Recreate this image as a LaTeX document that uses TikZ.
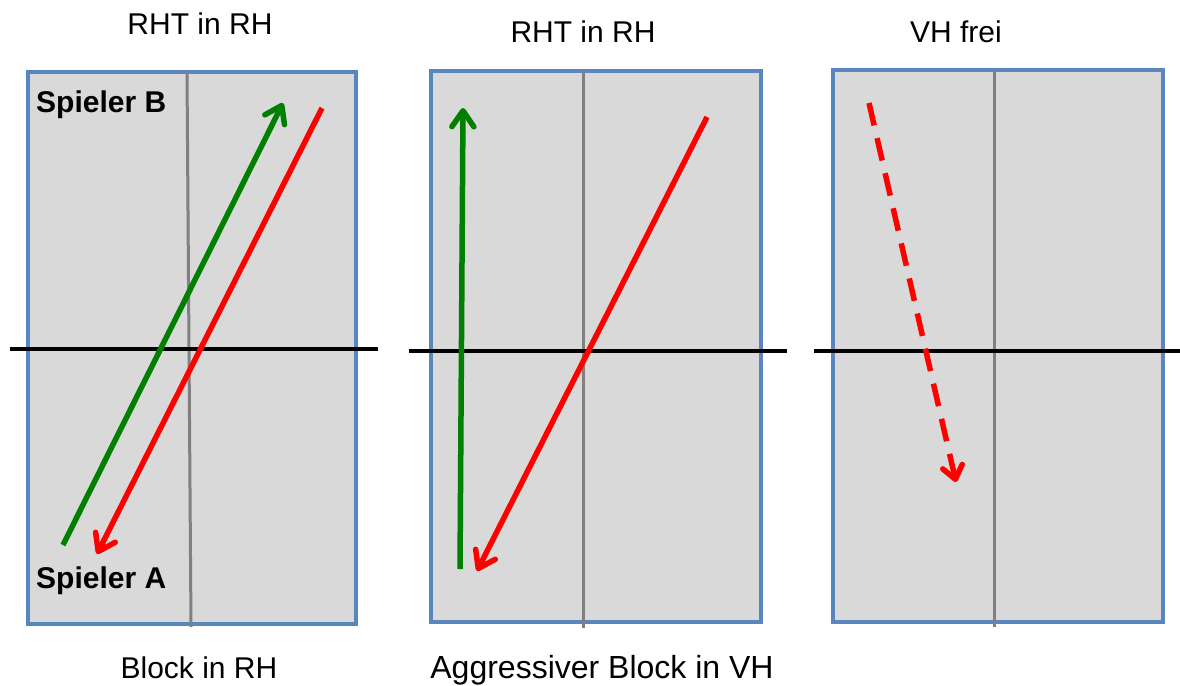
\documentclass[tikz,border=0pt]{standalone}
\usepackage{fontspec}
\setmainfont{Liberation Sans}
\usetikzlibrary{arrows.meta}
\definecolor{courtfill}{HTML}{D9D9D9}
\definecolor{courtblue}{HTML}{5A86C0}
\definecolor{midgray}{HTML}{808080}
\definecolor{arrgreen}{HTML}{008000}
\definecolor{arrred}{HTML}{FF0000}
\begin{document}
\begin{tikzpicture}[x=1pt,y=-1pt,
  court/.style={fill=courtfill,draw=courtblue,line width=3.2pt},
  midline/.style={draw=midgray,line width=3pt},
  netline/.style={draw=black,line width=3.6pt},
  shotgreen/.style={draw=arrgreen,line width=5.5pt,-{Straight Barb[length=16pt,width=22pt,line cap=round,line join=round]}},
  shotred/.style={draw=arrred,line width=5.5pt,-{Straight Barb[length=16pt,width=22pt,line cap=round,line join=round]}},
  shotdash/.style={draw=arrred,line width=5.5pt,dash pattern=on 23pt off 13pt,-{Straight Barb[length=13pt,width=20pt,line cap=round,line join=round]}},
  lbl/.style={inner sep=0pt,font=\fontsize{30}{36}\selectfont},
  blbl/.style={inner sep=0pt,font=\fontsize{30}{36}\selectfont\bfseries}]
\useasboundingbox (0,0) rectangle (1180,685);
% courts
\draw[court] (28,72) rectangle (356,624);
\draw[court] (431,71) rectangle (761,622);
\draw[court] (833,70) rectangle (1163,622);
% middle lines
\draw[midline] (187,72) -- (191,627);
\draw[midline] (583,71) -- (583,628);
\draw[midline] (994,70) -- (994,627);
% nets
\draw[netline] (10,349) -- (378,349);
\draw[netline] (409,351) -- (787,351);
\draw[netline] (814,351) -- (1180,351);
% endpoints
\coordinate (g1s) at (63,545);
\coordinate (g1e) at (283,103);
\coordinate (r1s) at (322,108);
\coordinate (r1e) at (97,554);
\coordinate (g2s) at (460,569);
\coordinate (g2e) at (463,108);
\coordinate (r2s) at (707,117);
\coordinate (r2e) at (477,571);
\coordinate (r3s) at (869,103);
\coordinate (r3e) at (956,482);
% shots
\draw[shotgreen] (g1s) -- (g1e);
\draw[shotred] (r1s) -- (r1e);
\draw[shotgreen] (g2s) -- (g2e);
\draw[shotred] (r2s) -- (r2e);
\draw[shotdash] (r3s) -- (r3e);
% labels
\node[lbl,anchor=base] (t1) at (200,35) {RHT in RH};
\node[lbl,anchor=base] (t2) at (583,43) {RHT in RH};
\node[lbl,anchor=base] (t3) at (956,43) {VH frei};
\node[lbl,anchor=base] (b1) at (199,678) {Block in RH};
\node[lbl,anchor=base,font=\fontsize{32}{38}\selectfont] (b2) at (602,678) {Aggressiver Block in VH};
\node[blbl,anchor=base west] (pb) at (36,112) {Spieler B};
\node[blbl,anchor=base west] (pa) at (36,588) {Spieler A};
\end{tikzpicture}
\end{document}
